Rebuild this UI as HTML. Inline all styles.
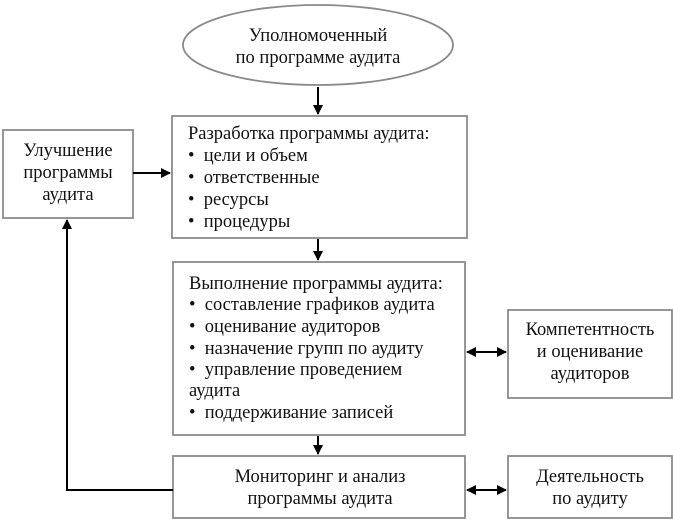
<!DOCTYPE html>
<html><head><meta charset="utf-8"><style>
body{margin:0;background:#fff;}
svg text{font-family:"Liberation Serif","DejaVu Serif",serif;font-size:18.5px;fill:#111;white-space:pre;}
</style></head><body>
<svg width="673" height="523" viewBox="0 0 673 523" xmlns="http://www.w3.org/2000/svg">
<defs><marker id="a" markerWidth="10" markerHeight="10" refX="9" refY="5" orient="auto-start-reverse" markerUnits="userSpaceOnUse"><path d="M0,0 L10,5 L0,10 z" fill="#000"/></marker></defs>
<g fill="#fff" stroke="#8a8a8a" stroke-width="1.8">
<ellipse cx="318" cy="45" rx="135" ry="40"/>
<rect x="172" y="116" width="295" height="122"/>
<rect x="3" y="130" width="130" height="88"/>
<rect x="173" y="262" width="292" height="173"/>
<rect x="508" y="310" width="164" height="88"/>
<rect x="173" y="456" width="292" height="62"/>
<rect x="508" y="456" width="164" height="62"/>
</g>
<g stroke="#000" stroke-width="2" fill="none">
<line x1="318" y1="87" x2="318" y2="114" marker-end="url(#a)"/>
<line x1="133" y1="173" x2="170" y2="173" marker-end="url(#a)"/>
<line x1="318" y1="239" x2="318" y2="260" marker-end="url(#a)"/>
<line x1="318" y1="436" x2="318" y2="454" marker-end="url(#a)"/>
<line x1="467" y1="352" x2="506" y2="352" marker-start="url(#a)" marker-end="url(#a)"/>
<line x1="467" y1="490" x2="506" y2="490" marker-start="url(#a)" marker-end="url(#a)"/>
<polyline points="173,490 67,490 67,220" marker-end="url(#a)"/>
</g>
<text x="318" y="41" text-anchor="middle">Уполномоченный</text>
<text x="318" y="63" text-anchor="middle">по программе аудита</text>
<text x="68" y="156" text-anchor="middle">Улучшение</text>
<text x="68" y="178" text-anchor="middle">программы</text>
<text x="68" y="200" text-anchor="middle">аудита</text>
<text x="188" y="139">Разработка программы аудита:</text>
<text x="188" y="161">•&#160;&#160;цели и объем</text>
<text x="188" y="183">•&#160;&#160;ответственные</text>
<text x="188" y="205">•&#160;&#160;ресурсы</text>
<text x="188" y="227">•&#160;&#160;процедуры</text>
<text x="189" y="289">Выполнение программы аудита:</text>
<text x="189" y="310">•&#160;&#160;составление графиков аудита</text>
<text x="189" y="332">•&#160;&#160;оценивание аудиторов</text>
<text x="189" y="354">•&#160;&#160;назначение групп по аудиту</text>
<text x="189" y="375">•&#160;&#160;управление проведением</text>
<text x="189" y="396">аудита</text>
<text x="189" y="418">•&#160;&#160;поддерживание записей</text>
<text x="590" y="335" text-anchor="middle">Компетентность</text>
<text x="590" y="357" text-anchor="middle">и оценивание</text>
<text x="590" y="379" text-anchor="middle">аудиторов</text>
<text x="320" y="482" text-anchor="middle">Мониторинг и анализ</text>
<text x="320" y="504" text-anchor="middle">программы аудита</text>
<text x="590" y="482" text-anchor="middle">Деятельность</text>
<text x="590" y="504" text-anchor="middle">по аудиту</text>
</svg>
</body></html>
